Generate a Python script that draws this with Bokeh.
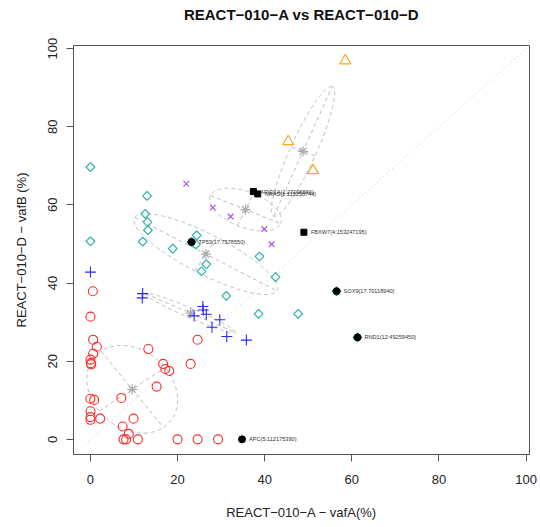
import numpy as np
from bokeh.plotting import figure
from bokeh.models import FixedTicker, Range1d, ColumnDataSource, Slope, Title
from bokeh.core.properties import value
from bokeh.embed import file_html
from bokeh.resources import INLINE

# ---------------- text ----------------
title_text = "REACT−010−A vs REACT−010−D"
x_label = "REACT−010−A − vafA(%)"
y_label = "REACT−010−D − vafB (%)"
axis_ticks = [0, 20, 40, 60, 80, 100]
axis_min, axis_max = 0, 96.9          # data range of both axes (R adds 4 %)

# ---------------- cluster 1 (red circles) ----------------
c1_x = [0.56, 0.02, 0.64, 1.48, 0.64, 0.02, 0.10, 0.18, 0.0, 0.87, 0.02, 0.02, 0.02, 2.25,
        13.3, 16.7, 17.2, 18.1, 15.2, 7.1, 7.4, 9.9, 8.8, 7.6, 8.2, 10.9, 20.0, 24.6, 29.3,
        23.0, 24.6]
c1_y = [37.9, 31.4, 25.5, 23.7, 21.9, 20.4, 19.5, 19.2, 10.4, 10.1, 7.2, 5.7, 5.0, 5.3,
        23.1, 19.3, 18.0, 17.5, 13.5, 10.6, 3.3, 5.3, 1.4, 0.0, 0.0, 0.0, 0.0, 0.0, 0.0,
        19.3, 25.5]
# ---------------- cluster 2 (blue crosses) ----------------
c2_x = [0.02, 12.0, 11.9, 23.8, 25.8, 25.9, 26.6, 27.9, 29.7, 31.3, 35.8]
c2_y = [42.8, 37.3, 36.2, 31.6, 34.0, 33.1, 32.0, 28.7, 30.6, 26.3, 25.4]
# ---------------- cluster 3 (teal diamonds) ----------------
c3_x = [0.02, 13.0, 12.6, 13.1, 13.2, 12.0, 0.02, 18.9, 24.4, 24.2, 26.6, 25.5, 38.8,
        42.5, 31.2, 38.6, 47.7]
c3_y = [69.7, 62.3, 57.7, 55.6, 53.5, 50.6, 50.7, 48.8, 52.2, 49.9, 44.8, 43.0, 46.8,
        41.5, 36.7, 32.1, 32.1]
# ---------------- cluster 4 (purple x) ----------------
c4_x = [22.0, 28.1, 32.2, 39.9, 41.6]
c4_y = [65.4, 59.3, 57.0, 53.8, 49.9]
# ---------------- cluster 5 (orange triangles) ----------------
c5_x = [58.5, 45.4, 51.1]
c5_y = [96.9, 76.2, 68.8]

# ---------------- annotated driver mutations ----------------
drv_label = ["APC(5:112175390)", "TP53(17:7578550)", "SOX9(17:70118940)",
             "RND1(12:49259450)", "ARID1A(1:27106560)", "NRAS(1:115258744)",
             "FBXW7(4:153247195)"]
drv_x = [34.8, 23.2, 56.5, 61.3, 37.4, 38.4, 49.0]
drv_y = [0.0, 50.5, 37.9, 26.1, 63.4, 62.8, 53.0]
drv_cluster = [1, 3, 3, 3, 4, 4, 4]

# ---------------- cluster ellipses (centre, semi-axes, angle in degrees) ----------------
ell_cx = [9.6, 23.0, 26.5, 35.6, 48.8]
ell_cy = [12.8, 32.3, 47.4, 58.8, 73.7]
ell_a = [12.1, 11.4, 18.8, 8.8, 17.9]
ell_b = [9.4, 1.2, 5.0, 4.5, 3.0]
ell_ang = [-53.7, -25.7, -30.0, -24.2, 68.0]

# ---------------- styles ----------------
FONT = "Liberation Sans"
pad = 0.04 * (axis_max - axis_min)
rng = (axis_min - pad, axis_max + pad)

p = figure(width=540, height=527, output_backend="svg", toolbar_location=None,
           title=None,
           x_range=Range1d(*rng), y_range=Range1d(*rng),
           min_border_left=73, min_border_right=11, min_border_top=45,
           min_border_bottom=73, background_fill_color="white",
           border_fill_color="white")

# spacer between frame and title, then the title itself
p.add_layout(Title(text=" ", text_font_size="2px", standoff=17), "above")
p.add_layout(Title(text=title_text, align="center", vertical_align="top",
                   text_font=FONT, text_font_size="15px", text_font_style="bold",
                   text_color="#111111", standoff=0), "above")

p.xgrid.visible = False
p.ygrid.visible = False
p.outline_line_color = "#555555"
p.outline_line_width = 1

for ax in (p.xaxis, p.yaxis):
    ax.ticker = FixedTicker(ticks=axis_ticks)
    ax.minor_tick_line_color = None
    ax.major_tick_in = 0
    ax.major_tick_out = 7
    ax.major_tick_line_color = "#555555"
    ax.axis_line_color = "#555555"
    ax.major_label_text_font = FONT
    ax.major_label_text_font_size = "13px"
    ax.major_label_text_color = "#222222"
    ax.axis_label_text_font = FONT
    ax.axis_label_text_font_size = "13px"
    ax.axis_label_text_font_style = "normal"
    ax.axis_label_text_color = "#222222"

p.xaxis.axis_label = x_label
p.yaxis.axis_label = y_label
p.xaxis.major_label_standoff = 13
p.xaxis.axis_label_standoff = 18
p.yaxis.major_label_orientation = "vertical"
p.yaxis.major_label_standoff = 9
p.yaxis.axis_label_standoff = 17

# diagonal y = x
p.add_layout(Slope(gradient=1, y_intercept=0, line_color="#C8C8C8",
                   line_dash="1 3", line_width=1))

# ellipses with their axes
ELL_COL = "#BDBDBD"
t = np.linspace(0, 2 * np.pi, 240)
for cx, cy, a, b, ang in zip(ell_cx, ell_cy, ell_a, ell_b, ell_ang):
    th = np.deg2rad(ang)
    ux, uy = np.cos(th), np.sin(th)
    vx, vy = -np.sin(th), np.cos(th)
    ex = cx + a * np.cos(t) * ux + b * np.sin(t) * vx
    ey = cy + a * np.cos(t) * uy + b * np.sin(t) * vy
    p.line(ex, ey, line_color=ELL_COL, line_dash="4 3", line_width=1)
    p.line([cx - a * ux, cx + a * ux], [cy - a * uy, cy + a * uy],
           line_color=ELL_COL, line_dash="4 3", line_width=1)
    p.line([cx - b * vx, cx + b * vx], [cy - b * vy, cy + b * vy],
           line_color=ELL_COL, line_dash="4 3", line_width=1)

p.scatter(ell_cx, ell_cy, marker="asterisk", size=10, line_color="#AAAAAA", line_width=1.2)

# cluster points
RED, BLUE, TEAL, PURPLE, ORANGE = "#FF2A2A", "#2A2AFF", "#2FB3AB", "#A94AEE", "#FFA520"
p.scatter(c1_x, c1_y, marker="circle", size=9, fill_color=None, line_color=RED, line_width=1.1)
p.scatter(c2_x, c2_y, marker="cross", size=11, line_color=BLUE, line_width=1.1)
p.scatter(c3_x, c3_y, marker="square", angle=np.pi / 4, size=6.2, fill_color=None,
          line_color=TEAL, line_width=1.2)
p.scatter(c4_x, c4_y, marker="x", size=8, line_color=PURPLE, line_width=1.1)
p.scatter(c5_x, c5_y, marker="triangle", size=11, fill_color=None, line_color=ORANGE,
          line_width=1.2)

# driver mutations
src = ColumnDataSource(dict(x=drv_x, y=drv_y, label=drv_label, cl=drv_cluster))
d3 = [i for i, c in enumerate(drv_cluster) if c == 3]
d4 = [i for i, c in enumerate(drv_cluster) if c == 4]
d1 = [i for i, c in enumerate(drv_cluster) if c == 1]
p.scatter([drv_x[i] for i in d3], [drv_y[i] for i in d3], marker="square", angle=np.pi / 4,
          size=6.2, fill_color=None, line_color=TEAL, line_width=1.2)
p.scatter([drv_x[i] for i in d4], [drv_y[i] for i in d4], marker="x", size=8,
          line_color=PURPLE, line_width=1.1)
p.scatter([drv_x[i] for i in d1 + d3], [drv_y[i] for i in d1 + d3], marker="circle",
          size=7, fill_color="black", line_color="black")
p.scatter([drv_x[i] for i in d4], [drv_y[i] for i in d4], marker="square",
          size=6, fill_color="black", line_color="black")
p.text(x="x", y="y", text="label", source=src, x_offset=7, text_baseline="middle",
       text_align="left", text_font=value(FONT), text_font_size="5.6px",
       text_color="#333333")

open("out.html", "w").write(file_html(p, INLINE))
